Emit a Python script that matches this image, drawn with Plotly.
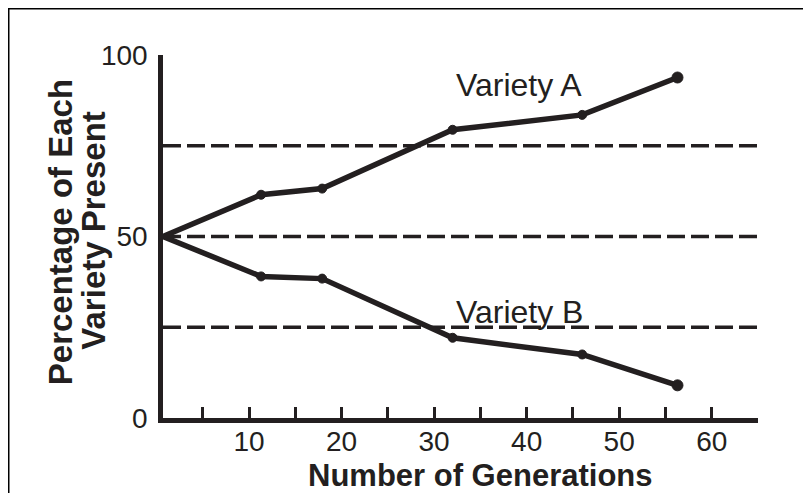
import plotly.graph_objects as go

# ---- data ----
generations = [0.7, 11.3, 17.9, 32.0, 46.0, 56.3]
variety_a = [50, 61.5, 63.2, 79.4, 83.5, 93.8]
variety_b = [50, 39.0, 38.4, 22.1, 17.5, 9.0]
ref_levels = [25, 50, 75]
x_tickvals = [5, 10, 15, 20, 25, 30, 35, 40, 45, 50, 55, 60, 65]
x_ticktext = ["", "10", "", "20", "", "30", "", "40", "", "50", "", "60", ""]
y_tickvals = [0, 50, 100]
y_ticktext = ["0", "50", "100"]
x_range = [0.7, 65]
y_range = [0, 100]

INK = "#231f20"
FONT = "Liberation Sans, Arial, Helvetica, sans-serif"

fig = go.Figure()

# dashed reference lines
for lvl in ref_levels:
    fig.add_trace(go.Scatter(
        x=[x_range[0], x_range[1]], y=[lvl, lvl], mode="lines",
        line=dict(color=INK, width=3.5, dash="18px,6px"),
        hoverinfo="skip", showlegend=False))

marker_sizes = [4, 9, 9, 9, 9, 11]
for name, vals in [("Variety A", variety_a), ("Variety B", variety_b)]:
    fig.add_trace(go.Scatter(
        x=generations, y=vals, mode="lines+markers", name=name,
        line=dict(color=INK, width=5.5),
        marker=dict(color=INK, size=marker_sizes, opacity=1,
                    line=dict(color=INK, width=1)),
        cliponaxis=False, showlegend=False))

fig.update_xaxes(
    range=x_range, showline=True, linecolor=INK, linewidth=4.5,
    ticks="inside", ticklen=11, tickwidth=3, tickcolor=INK,
    tickvals=x_tickvals, ticktext=x_ticktext, ticklabelstandoff=-5,
    tickfont=dict(family=FONT, size=28, color=INK),
    showgrid=False, zeroline=False)
fig.update_yaxes(
    range=y_range, showline=True, linecolor=INK, linewidth=4.5,
    ticks="inside", ticklen=13, tickwidth=3, tickcolor=INK,
    tickvals=y_tickvals, ticktext=y_ticktext, ticklabelstandoff=5,
    tickfont=dict(family=FONT, size=28, color=INK),
    showgrid=False, zeroline=False)

ann = []
ann.append(dict(text="Variety A", x=39.2, y=91.7, xref="x", yref="y",
                showarrow=False, xanchor="center", yanchor="middle",
                font=dict(family=FONT, size=32, color=INK)))
ann.append(dict(text="Variety B", x=39.2, y=29.3, xref="x", yref="y",
                showarrow=False, xanchor="center", yanchor="middle",
                font=dict(family=FONT, size=32, color=INK)))
ann.append(dict(text="<b>Number of Generations</b>", x=0.534, y=-0.158,
                xref="paper", yref="paper", showarrow=False,
                xanchor="center", yanchor="middle",
                font=dict(family=FONT, size=31, color=INK)))
ann.append(dict(text="<b>Percentage of Each</b>", x=-0.173, y=0.512,
                xref="paper", yref="paper", showarrow=False, textangle=-90,
                xanchor="center", yanchor="middle",
                font=dict(family=FONT, size=33, color=INK)))
ann.append(dict(text="<b>Variety Present</b>", x=-0.116, y=0.516,
                xref="paper", yref="paper", showarrow=False, textangle=-90,
                xanchor="center", yanchor="middle",
                font=dict(family=FONT, size=33, color=INK)))

# page is offset by the default 8px body margin
L, R, T, B = 155, 61, 47, 82.5
W, H = 811, 493
pw, ph = W - L - R, H - T - B

def px_x(p):
    return (p - L) / pw

def px_y(p):
    return (H - B - p) / ph

shapes = [
    dict(type="line", xref="paper", yref="paper",
         x0=px_x(0), x1=px_x(W), y0=px_y(0.5), y1=px_y(0.5),
         line=dict(color="#000000", width=2)),
    dict(type="line", xref="paper", yref="paper",
         x0=px_x(0.5), x1=px_x(0.5), y0=px_y(0), y1=px_y(H),
         line=dict(color="#000000", width=2)),
]

fig.update_layout(
    width=W, height=H, autosize=False,
    margin=dict(l=L, r=R, t=T, b=B, pad=0),
    paper_bgcolor="white", plot_bgcolor="white",
    annotations=ann, shapes=shapes,
    font=dict(family=FONT, color=INK))

fig.write_html("out.html")
